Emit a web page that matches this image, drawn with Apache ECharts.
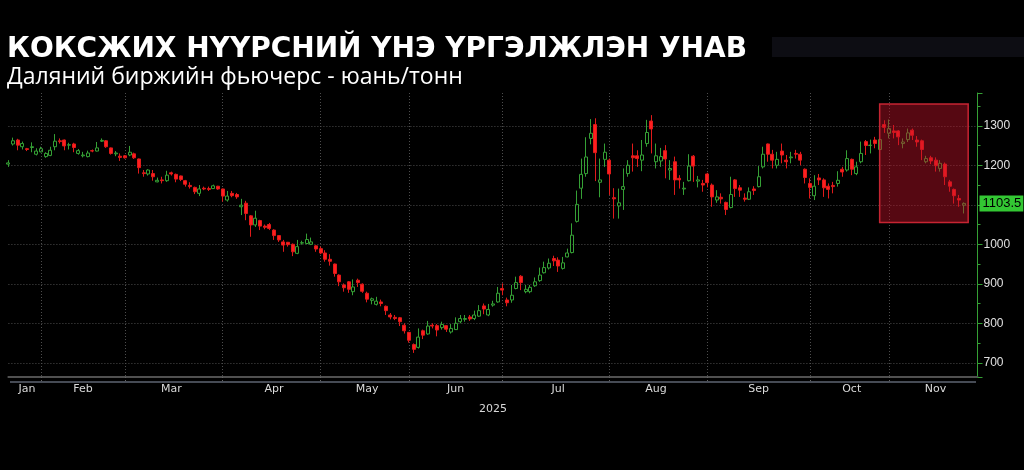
<!DOCTYPE html>
<html><head><meta charset="utf-8">
<script src="https://cdn.jsdelivr.net/npm/echarts@6/dist/echarts.min.js"></script>
<style>html,body{margin:0;padding:0;background:#000;}#c{width:1024px;height:470px;}</style>
</head><body><div id="c"></div>
<script>
// ---------- data ----------
const titleText = 'КОКСЖИХ НҮҮРСНИЙ ҮНЭ ҮРГЭЛЖЛЭН УНАВ';
const subtitleText = 'Даляний биржийн фьючерс - юань/тонн';
const yearLabel = '2025';
const monthNames = ['Jan','Feb','Mar','Apr','May','Jun','Jul','Aug','Sep','Oct','Nov'];
const monthLabelIdx = [4,16,35,57,77,96,118,139,161,181,199];
const monthStartIdx = [7,25,46,67,86,106,129,150,172,189];
const trailingEmpty = 3;
// daily candles: [open, close, low, high]
const candles = [
[1203,1206,1196,1213],[1254,1262,1250,1270],[1264,1251,1238,1267],[1247,1255,1240,1260],[1242,1240,1236,1244],
[1245,1247,1233,1258],[1228,1236,1225,1243],[1234,1242,1233,1247],[1222,1230,1219,1233],[1225,1238,1223,1247],
[1247,1261,1238,1279],[1262,1260,1255,1268],[1264,1249,1238,1265],[1251,1252,1240,1257],[1254,1245,1233,1257],
[1230,1237,1227,1241],[1224,1226,1220,1234],[1222,1231,1220,1237],[1237,1236,1233,1240],[1236,1244,1235,1259],
[1261,1263,1259,1268],[1262,1247,1244,1264],[1244,1230,1227,1245],[1229,1231,1223,1236],[1223,1220,1211,1230],
[1224,1219,1217,1226],[1226,1233,1223,1249],[1229,1219,1216,1232],[1216,1194,1179,1217],[1181,1179,1171,1188],
[1178,1188,1174,1190],[1179,1171,1161,1188],[1158,1162,1157,1169],[1163,1161,1154,1171],[1161,1175,1158,1186],
[1181,1178,1174,1184],[1177,1165,1157,1179],[1173,1164,1160,1174],[1161,1152,1146,1163],[1149,1146,1141,1157],
[1144,1133,1127,1146],[1129,1140,1122,1150],[1142,1140,1137,1146],[1141,1139,1135,1146],[1141,1148,1140,1151],
[1147,1140,1138,1148],[1140,1122,1108,1141],[1112,1122,1108,1135],[1129,1123,1119,1135],[1126,1120,1115,1130],
[1095,1099,1074,1115],[1104,1078,1061,1110],[1072,1049,1019,1074],[1049,1066,1044,1085],[1060,1046,1036,1062],
[1046,1043,1038,1050],[1050,1040,1036,1054],[1036,1022,1011,1038],[1022,1011,1006,1023],[1006,998,981,1011],
[1005,999,994,1006],[1000,981,970,1002],[977,994,975,1011],[1003,1004,999,1009],[1002,1012,1000,1027],
[1000,1006,998,1017],[996,988,981,998],[989,978,975,994],[978,962,956,985],[962,957,946,975],
[950,926,918,951],[922,905,894,924],[897,890,880,901],[905,886,877,907],[880,892,871,911],
[909,903,892,913],[899,881,877,901],[876,861,853,880],[858,862,848,865],[848,856,845,867],
[854,850,843,860],[843,832,821,845],[821,816,810,826],[815,812,808,821],[814,804,793,816],
[795,781,774,800],[777,757,751,778],[746,734,725,749],[739,765,736,787],[781,770,760,784],
[773,793,771,806],[795,793,787,800],[794,783,767,798],[789,797,784,804],[794,785,778,795],
[778,787,774,798],[784,800,783,815],[804,812,800,821],[810,812,804,821],[816,811,806,821],
[812,821,808,832],[818,832,816,846],[844,836,823,850],[821,835,818,849],[846,849,842,857],
[854,876,852,892],[888,884,871,901],[859,852,843,865],[859,871,852,897],[888,903,886,918],
[919,903,884,922],[880,886,876,897],[880,891,876,897],[895,905,892,916],[908,922,905,941],
[928,941,926,956],[940,952,936,964],[964,958,945,971],[960,945,930,967],[939,953,936,968],
[968,978,967,989],[979,1023,977,1053],[1058,1101,1055,1136],[1142,1177,1115,1217],[1179,1221,1171,1271],
[1268,1281,1253,1317],[1303,1232,1160,1319],[1157,1163,1119,1217],[1215,1233,1196,1255],[1213,1178,1125,1217],
[1118,1115,1065,1142],[1097,1105,1065,1141],[1139,1146,1087,1192],[1179,1200,1171,1213],[1224,1219,1184,1255],
[1224,1217,1196,1238],[1213,1226,1185,1264],[1255,1283,1247,1315],[1312,1292,1230,1327],[1209,1224,1192,1255],
[1211,1222,1196,1244],[1237,1216,1167,1251],[1188,1192,1163,1213],[1209,1163,1125,1222],[1167,1163,1141,1175],
[1140,1142,1125,1158],[1161,1198,1159,1228],[1223,1198,1158,1226],[1160,1163,1144,1173],[1154,1150,1133,1163],
[1178,1156,1144,1181],[1150,1120,1095,1154],[1112,1120,1105,1137],[1119,1115,1103,1129],[1106,1088,1074,1108],
[1093,1126,1091,1171],[1163,1141,1120,1165],[1143,1137,1120,1150],[1117,1114,1108,1129],[1114,1133,1112,1144],
[1140,1136,1125,1147],[1146,1171,1144,1198],[1196,1228,1192,1247],[1254,1228,1209,1255],[1228,1213,1192,1239],
[1200,1215,1192,1234],[1236,1226,1205,1255],[1213,1209,1192,1226],[1219,1221,1205,1234],[1230,1228,1217,1239],
[1228,1213,1200,1234],[1190,1169,1154,1192],[1154,1144,1116,1167],[1123,1147,1112,1175],[1168,1163,1150,1178],
[1163,1143,1120,1167],[1147,1139,1116,1154],[1149,1146,1129,1158],[1154,1162,1146,1185],[1190,1183,1171,1196],
[1188,1217,1184,1238],[1215,1190,1175,1217],[1179,1196,1175,1209],[1209,1230,1205,1260],[1260,1250,1226,1264],
[1250,1251,1230,1265],[1264,1255,1243,1272],[1240,1265,1238,1268],[1303,1296,1282,1314],[1281,1293,1268,1316],
[1287,1283,1268,1302],[1287,1272,1251,1289],[1255,1259,1243,1268],[1265,1282,1259,1293],[1289,1276,1264,1293],
[1264,1259,1247,1274],[1262,1240,1213,1265],[1209,1217,1205,1224],[1219,1211,1203,1224],[1213,1199,1184,1220],
[1192,1205,1184,1213],[1203,1171,1150,1207],[1158,1147,1133,1163],[1139,1123,1103,1141],[1116,1112,1095,1125],
[1099,1103.5,1078,1106]
];
const lastPrice = 1103.5;
const yRange = [664, 1383];
const highlightIdx = [187, 206];
const highlightVal = [1055, 1355];

// ---------- chart ----------
const categories = [];
for (let i = 0; i < candles.length + trailingEmpty; i++) categories.push(String(i));
const startSet = new Set(monthStartIdx);
const labelMap = new Map(monthLabelIdx.map((v, k) => [v, monthNames[k]]));
const gridColor = '#4d4d4d';
const green = '#35a035';

const chart = echarts.init(document.getElementById('c'), null, {renderer: 'canvas'});
chart.setOption({
  backgroundColor: '#000',
  animation: false,
  title: [
    {text: titleText, left: 7, top: 36, padding: 0,
     textStyle: {color: '#ffffff', fontSize: 28, fontWeight: 'bold', fontFamily: 'DejaVu Sans'}},
    {text: subtitleText, left: 7, top: 66, padding: 0,
     textStyle: {color: '#ffffff', fontSize: 23, fontWeight: 'normal', fontFamily: 'Open Sans'}}
  ],
  graphic: [
    {type: 'rect', shape: {x: 772, y: 37, width: 252, height: 20}, style: {fill: '#0d0d13'}, silent: true},
    {type: 'line', shape: {x1: 10, y1: 382, x2: 976, y2: 382}, style: {stroke: '#8c96aa', lineWidth: 1}, silent: true}
  ],
  grid: {left: 8.4, right: 46.5, top: 93, bottom: 93, containLabel: false, outerBoundsMode: 'none'},
  xAxis: {
    type: 'category', data: categories, boundaryGap: false,
    axisLine: {show: true, lineStyle: {color: '#505050', width: 2}},
    axisTick: {show: true, interval: (i) => startSet.has(i), length: 6, lineStyle: {color: '#666', type: [1, 2]}},
    axisLabel: {interval: (i) => labelMap.has(i), formatter: (v) => labelMap.get(parseInt(v, 10)) || '',
      color: '#d9d9d9', fontSize: 11, fontFamily: 'DejaVu Sans', margin: 7},
    splitLine: {show: true, interval: (i) => startSet.has(i), lineStyle: {color: gridColor, type: [1, 2]}},
    name: yearLabel, nameLocation: 'middle', nameGap: 27,
    nameTextStyle: {color: '#d9d9d9', fontSize: 11, fontFamily: 'DejaVu Sans'}
  },
  yAxis: {
    type: 'value', position: 'right', min: yRange[0], max: yRange[1], splitNumber: 7,
    axisLine: {show: true, lineStyle: {color: green, width: 1}},
    axisTick: {show: true, length: 5, lineStyle: {color: green}},
    minorTick: {show: true, splitNumber: 2, length: 3, lineStyle: {color: green}},
    axisLabel: {color: '#e0e0e0', fontSize: 12, fontFamily: 'Liberation Sans', margin: 6,
      showMinLabel: false, showMaxLabel: false, formatter: (v) => String(v)},
    splitLine: {show: true, showMinLine: false, showMaxLine: false, lineStyle: {color: gridColor, type: [1, 2]}}
  },
  series: [{
    type: 'candlestick', data: candles, barWidth: 3.5, clip: true,
    itemStyle: {color: 'rgba(0,0,0,0)', color0: '#ff1f1f', borderColor: green, borderColor0: '#e01a1a', borderWidth: 1},
    markArea: {
      silent: true, z: 3,
      itemStyle: {color: 'rgba(190,18,40,0.45)', borderColor: 'rgba(215,40,55,0.9)', borderWidth: 1.5},
      data: [[{xAxis: highlightIdx[0], yAxis: highlightVal[1]}, {xAxis: highlightIdx[1], yAxis: highlightVal[0]}]]
    }
  }, {
    type: 'line', data: [], clip: false, silent: true,
    markLine: {
      silent: true, symbol: 'none', z: 6,
      lineStyle: {color: 'rgba(0,0,0,0)', width: 0},
      label: {show: true, position: 'end', distance: 2, formatter: () => lastPrice.toFixed(1),
        backgroundColor: '#33c733', color: '#000', padding: [2, 2, 1, 3], fontSize: 13, fontFamily: 'Liberation Sans'},
      data: [{yAxis: lastPrice}]
    }
  }]
});
</script></body></html>
